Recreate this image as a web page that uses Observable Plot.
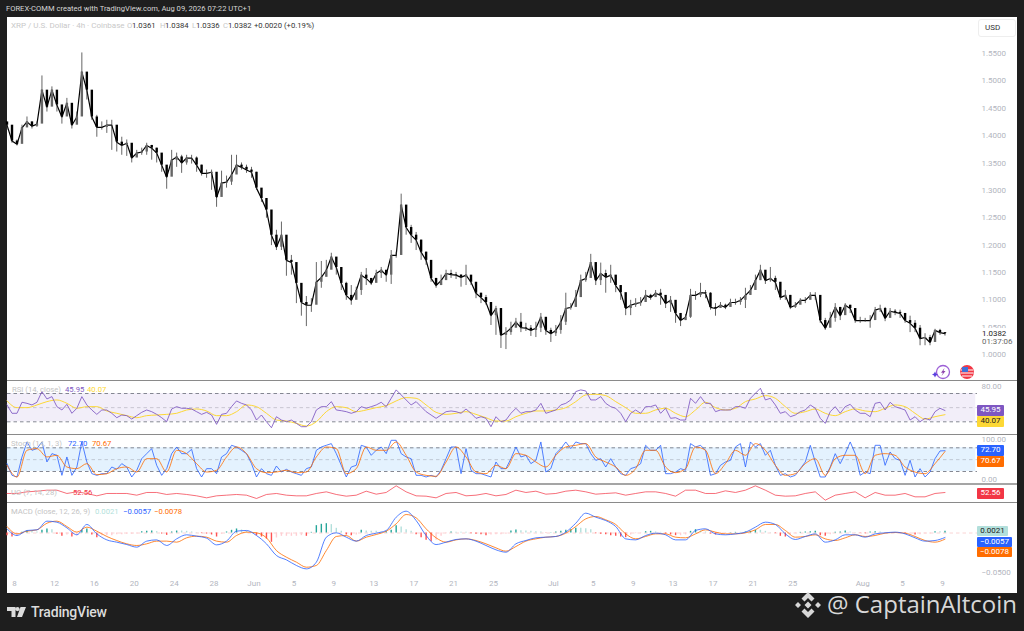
<!DOCTYPE html>
<html>
<head>
<meta charset="utf-8">
<script src="https://cdn.jsdelivr.net/npm/d3@7"></script>
<script src="https://cdn.jsdelivr.net/npm/@observablehq/plot@0.6"></script>
<style>
html,body{margin:0;padding:0;background:#1e1e1e;width:1024px;height:631px;overflow:hidden;font-family:Roboto,"Liberation Sans",sans-serif}
#panel{position:absolute;left:7px;top:17px;width:1010px;height:576px;background:#fff}
.abs{position:absolute;white-space:nowrap;line-height:1}
.sep{position:absolute;left:7px;width:1010px;height:1.5px;background:#8a8a8a}
.box{position:absolute;left:977px;width:27px;text-align:center;font-size:8px;line-height:10.5px;height:10.5px;border-radius:1px}
</style>
</head>
<body>
<div id="panel"></div>
<div id="root"></div>
<script>
// ---------- time ----------
const startTime = Date.UTC(2026, 4, 7, 6);
const stepMs = 12 * 3600 * 1000;
const tickDates = ["2026-05-08","2026-05-12","2026-05-16","2026-05-20","2026-05-24","2026-05-28","2026-06-01","2026-06-05","2026-06-09","2026-06-13","2026-06-17","2026-06-21","2026-06-25","2026-07-01","2026-07-05","2026-07-09","2026-07-13","2026-07-17","2026-07-21","2026-07-25","2026-08-01","2026-08-05","2026-08-09"];
const tickLabels = ["8","12","16","20","24","28","Jun","5","9","13","17","21","25","Jul","5","9","13","17","21","25","Aug","5","9"];
const priceTicks = [1,1.05,1.1,1.15,1.2,1.25,1.3,1.35,1.4,1.45,1.5,1.55];

// ---------- price (12h samples) ----------
const closes = [1.419,1.390,1.384,1.414,1.425,1.417,1.421,1.483,1.452,1.483,
1.456,1.434,1.459,1.419,1.434,1.516,1.483,1.434,1.415,1.415,
1.419,1.419,1.388,1.382,1.386,1.359,1.368,1.370,1.382,1.377,
1.368,1.346,1.324,1.355,1.361,1.350,1.359,1.359,1.346,1.331,
1.331,1.333,1.287,1.313,1.315,1.328,1.346,1.342,1.337,1.333,
1.304,1.285,1.264,1.218,1.196,1.218,1.172,1.168,1.130,1.095,
1.090,1.090,1.132,1.141,1.154,1.178,1.159,1.130,1.108,1.099,
1.117,1.145,1.139,1.130,1.148,1.154,1.145,1.181,1.181,1.273,
1.232,1.218,1.209,1.187,1.172,1.139,1.126,1.135,1.148,1.146,
1.145,1.141,1.145,1.132,1.112,1.104,1.095,1.071,1.084,1.035,
1.040,1.048,1.059,1.049,1.048,1.044,1.048,1.068,1.044,1.038,
1.044,1.059,1.084,1.086,1.104,1.135,1.139,1.168,1.135,1.148,
1.141,1.145,1.126,1.113,1.084,1.090,1.093,1.095,1.108,1.104,
1.112,1.108,1.093,1.099,1.075,1.062,1.068,1.108,1.108,1.113,
1.112,1.086,1.084,1.090,1.086,1.095,1.095,1.099,1.108,1.117,
1.135,1.154,1.135,1.139,1.132,1.104,1.108,1.086,1.090,1.099,
1.099,1.108,1.108,1.062,1.048,1.066,1.086,1.071,1.090,1.084,
1.062,1.062,1.062,1.062,1.081,1.084,1.066,1.079,1.077,1.075,
1.062,1.057,1.048,1.029,1.031,1.022,1.044,1.040,1.0382];
const highs = [1.423,1.408,1.392,1.419,1.434,1.425,1.425,1.509,1.465,1.489,
1.468,1.450,1.468,1.456,1.443,1.551,1.492,1.474,1.437,1.425,
1.428,1.428,1.403,1.397,1.392,1.373,1.373,1.377,1.386,1.382,
1.377,1.364,1.340,1.373,1.368,1.364,1.364,1.364,1.361,1.346,
1.337,1.337,1.315,1.335,1.326,1.364,1.364,1.350,1.346,1.342,
1.333,1.300,1.273,1.254,1.227,1.242,1.209,1.181,1.154,1.121,
1.106,1.102,1.168,1.170,1.172,1.185,1.176,1.150,1.132,1.126,
1.123,1.150,1.157,1.135,1.154,1.159,1.150,1.190,1.187,1.293,
1.254,1.236,1.223,1.209,1.187,1.163,1.139,1.145,1.154,1.154,
1.150,1.146,1.163,1.139,1.126,1.112,1.108,1.090,1.088,1.048,
1.049,1.059,1.066,1.075,1.057,1.053,1.059,1.075,1.059,1.048,
1.053,1.071,1.112,1.093,1.117,1.145,1.150,1.183,1.163,1.167,
1.154,1.163,1.139,1.126,1.102,1.099,1.102,1.104,1.117,1.110,
1.117,1.119,1.104,1.106,1.090,1.071,1.073,1.119,1.115,1.130,
1.117,1.113,1.093,1.095,1.092,1.101,1.101,1.104,1.121,1.126,
1.145,1.163,1.150,1.159,1.143,1.126,1.117,1.108,1.095,1.102,
1.104,1.113,1.113,1.099,1.066,1.077,1.093,1.086,1.093,1.090,
1.081,1.068,1.066,1.071,1.086,1.090,1.086,1.084,1.082,1.081,
1.073,1.070,1.062,1.053,1.038,1.035,1.046,1.046,1.0384];
const lows = [1.410,1.386,1.381,1.392,1.419,1.412,1.415,1.443,1.443,1.459,
1.443,1.421,1.437,1.412,1.425,1.456,1.465,1.428,1.397,1.410,
1.404,1.373,1.370,1.364,1.362,1.350,1.361,1.364,1.364,1.355,
1.350,1.333,1.302,1.333,1.342,1.331,1.346,1.348,1.333,1.326,
1.322,1.300,1.269,1.291,1.304,1.309,1.337,1.337,1.331,1.322,
1.300,1.278,1.249,1.199,1.190,1.190,1.143,1.145,1.093,1.070,
1.051,1.077,1.115,1.121,1.145,1.163,1.145,1.117,1.099,1.090,
1.104,1.108,1.126,1.126,1.135,1.139,1.132,1.128,1.176,1.181,
1.218,1.203,1.190,1.172,1.163,1.132,1.121,1.126,1.139,1.139,
1.137,1.123,1.126,1.126,1.102,1.093,1.090,1.053,1.035,1.011,
1.009,1.035,1.049,1.040,1.042,1.033,1.031,1.040,1.035,1.022,
1.033,1.037,1.053,1.081,1.099,1.117,1.132,1.139,1.126,1.126,
1.112,1.130,1.113,1.099,1.071,1.071,1.086,1.088,1.099,1.099,
1.106,1.090,1.084,1.077,1.057,1.051,1.062,1.066,1.099,1.104,
1.102,1.081,1.070,1.084,1.082,1.090,1.090,1.090,1.084,1.108,
1.130,1.135,1.128,1.132,1.117,1.099,1.099,1.082,1.084,1.093,
1.093,1.102,1.099,1.057,1.044,1.059,1.059,1.062,1.081,1.075,
1.057,1.057,1.059,1.048,1.073,1.077,1.060,1.071,1.071,1.066,
1.057,1.040,1.040,1.016,1.016,1.016,1.035,1.035,1.0336];

// ---------- RSI (12h samples) ----------
const rsi = [53.8,42,42,57.6,56.1,53.8,57.6,72.7,62.3,65.6,51.4,46.7,54.7,42,49.1,65.6,53.8,46.7,40.5,46.7,46.7,42,35.8,39.6,38.7,33.9,38.7,43.4,46.7,44.3,40.5,35.8,30.1,48.1,51.4,49.1,49.1,48.1,44.3,40.5,43.4,39.6,26.4,40.5,42,51.4,59.5,56.1,53.8,46.7,32.5,39.6,30.1,21.6,37.2,32.5,30.1,32.5,27.8,23.1,23.1,30.1,46.7,51.4,51.4,58.5,46.7,
45.7,
44.3,42,44.3,51.4,49.1,51.4,53.8,57.6,51.4,63.2,75.1,68,60.9,53.8,58.5,51.4,44.3,39.6,34.9,39.6,44.3,45.3,44.3,42,48.1,42,34.9,37.2,34.9,23.1,37.2,30.1,32.5,42,49.1,42,44.3,44.3,46.7,56.1,42,44.3,46.7,53.8,56.1,60.9,72.7,75.1,73.6,60.9,60.9,65.6,56.1,51.4,49.1,42,30.1,42,46.7,42,51.4,51.4,53.8,42,49.1,34.9,35.8,
32.5,
32.5,63.2,56.1,65.6,56.1,56.1,44.3,46.7,46.7,46.7,51.4,51.4,49.1,63.2,70.3,77.4,60.9,63.2,53.8,42,44.3,37.2,39.6,44.3,46.7,53.8,49.1,34.9,27.8,44.3,51.4,42,51.4,54.7,46.7,42,42,37.2,56.1,57.6,46.7,57.6,51.4,49.1,46.7,32.5,37.2,30.1,34.9,32.5,44.3,49.1,45.95];
// RSI moving average (every second sample)
const rsiMA = [59.5,50,50,53.8,58.5,60.9,56.1,49.1,51.4,51.4,45.3,42,38.7,35.8,38.7,39.6,40.5,42,46.7,48.1,45.3,38.7,38.7,44.3,53.8,51.4,42,32.5,31.1,27.8,24,30.1,44.3,51.4,
50,44.3,46.7,50,52.8,59.5,64.2,63.2,53.8,43.4,40.5,42,44.3,40.5,35.8,31.1,31.1,37.2,42,45.3,45.3,46.7,50,58.5,68,68.9,67,58.5,50,42,42,46.7,49.1,42,
37.2,46.7,57.6,50,46.7,49.1,58.5,62.3,67,63.2,51.4,42,44.3,48.1,42,38.7,44.3,48.1,45.3,44.3,49.1,53.8,51.4,42,33.9,37.2,40.07];

// ---------- Stochastic ----------
const stochK = [39.9,10.3,6.1,56.8,94.8,73.7,77.9,94.8,44.1,65.2,61,10.3,56.8,10.3,31.4,94.8,44.1,14.5,10.3,14.5,14.5,31.4,25.5,39.9,31.4,6.1,23,52.5,65.2,77.9,35.6,10.3,27.2,65.2,82.1,65.2,65.2,76.2,27.2,6.1,27.2,27.2,14.5,56.8,65.2,86.3,82.1,73.7,65.2,39.9,6.1,27.2,14.5,10.3,33.9,18.7,25.5,18.7,14.5,10.3,27.2,31.4,73.7,82.1,86.3,90.6,65.2,
35.6,6.1,31.4,35.6,86.3,82.1,61,73.7,82.1,65.2,99,99,65.2,56.8,52.5,10.3,10.3,6.1,10.3,6.1,23,52.5,82.1,82.1,14.5,77.9,23,14.5,14.5,10.3,6.1,44.1,27.2,27.2,52.5,82.1,56.8,61,39.9,48.3,94.8,18.7,27.2,65.2,77.9,94.8,77.9,94.8,90.6,90.6,65.2,48.3,52.5,31.4,52.5,31.4,14.5,10.3,27.2,31.4,39.9,86.3,73.7,73.7,86.3,14.5,14.5,18.7,
27.2,23,90.6,82.1,86.3,73.7,10.3,14.5,35.6,44.1,48.3,82.1,90.6,31.4,94.8,82.1,90.6,61,73.7,35.6,10.3,14.5,6.1,10.3,27.2,44.1,86.3,44.1,6.1,6.1,31.4,65.2,39.9,65.2,94.8,65.2,10.3,18.7,14.5,86.3,86.3,35.6,69.4,52.5,48.3,10.3,48.3,6.1,27.2,6.1,18.7,52.5,72,72.7];
const stochD = [35.6,6.1,73.7,77.9,56.8,61,31.4,27.2,39.9,12,14.5,27.2,31.4,18.7,52.5,52.5,18.7,73.7,65.2,39.9,18.7,23,56.8,82.1,65.2,27.2,17,18.7,23,17,18.7,56.8,82.1,77.9,
14.5,27.2,82.1,73.7,73.7,94.8,61,18.7,10.3,7.8,44.1,82.1,56.8,18.7,14.5,35.6,27.2,65.2,61,44.1,31.4,61,82.1,86.3,90.6,56.8,44.1,31.4,10.3,27.2,73.7,73.7,31.4,17,
27.2,82.1,73.7,14.5,39.9,73.7,61,90.6,73.7,35.6,10.3,14.5,39.9,52.5,10.3,52.5,61,61,14.5,61,65.2,61,31.4,18.7,14.5,39.9,70.67];

// ---------- Ultimate Oscillator (every second sample) ----------
const uo = [50.6,50.6,53.9,55.2,57.2,57.2,50.6,53.9,50.6,45.9,50.6,50.6,50.6,47.2,52.6,52.6,48.6,50.6,48.6,45.9,41.9,45.9,47.2,48.6,47.2,40.6,48.6,50.6,47.2,45.9,45.9,50.6,53.9,48.6,
45.2,47.2,55.2,49.2,52.6,65.9,53.9,45.9,45.2,41.9,50.6,52.6,45.9,47.2,50.6,45.9,48.6,57.2,52.6,55.2,49.2,50.6,55.2,57.2,53.9,49.2,50.6,51.9,47.2,50.6,53.9,53.9,50.6,45.2,
57.2,57.2,50.6,50.6,55.9,52.6,57.2,65.9,57.2,47.2,45.2,45.9,50.6,53.9,37.2,47.2,50.6,53.9,41.9,52.6,47.2,47.2,50.6,43.9,43.9,50.6,52.56];

// ---------- MACD (every second sample) ----------
const macdLine = [.0053,-.0032,.0032,.004,.015,.0137,.0065,-.0023,.0108,-.0011,-.0087,-.0116,-.0146,-.0179,-.0103,-.0087,-.0158,-.0074,-.0023,-.004,-.0065,-.015,-.0103,.0023,.0032,-.0032,-.0137,-.0285,-.034,-.0411,-.0454,-.0369,-.0053,.0002,
-.0053,-.0103,-.0032,-.0002,.0032,.02,.0276,.0158,-.0032,-.0146,-.0116,-.0082,-.0074,-.0103,-.0158,-.0213,-.0243,-.0137,-.0095,-.0061,-.0053,-.0044,.0011,.0124,.0251,.02,.0158,.0082,-.0074,-.0087,-.0032,-.0002,-.0023,-.0087,
-.0087,.0032,.0053,-.0011,-.0023,-.0011,.0011,.0074,.0137,.0108,-.0011,-.0082,-.0044,-.0011,-.0116,-.0087,-.0023,-.0023,-.0053,-.0011,.0002,.0011,-.0011,-.0061,-.0103,-.0095,-.0057];
const signalLine = [.0082,-.0011,.0023,.004,.0124,.015,.0082,.0011,.0074,.0023,-.0044,-.0095,-.0137,-.0158,-.0137,-.0103,-.0103,-.0116,-.0061,-.004,-.0053,-.0103,-.0116,-.0032,.0011,.0002,-.0061,-.0222,-.0306,-.0369,-.0433,-.0411,-.0222,-.0044,
-.0032,-.0103,-.0053,-.0019,.0023,.0116,.0234,.0192,.0053,-.0061,-.0116,-.0087,-.0074,-.0095,-.0137,-.0188,-.023,-.0171,-.0103,-.0074,-.0053,-.0044,-.0002,.0082,.0179,.0209,.0167,.0108,-.0011,-.0074,-.0044,-.0011,-.0011,-.0053,
-.0061,-.0011,.004,.0011,-.0011,-.0011,.0002,.004,.0108,.0108,.0032,-.0053,-.0044,-.0023,-.0074,-.0095,-.0061,-.0023,-.0044,-.0032,-.0002,.0006,-.0002,-.0044,-.0095,-.0116,-.0078];
const macdHist = [-.0034,-.0051,-.0034,.0008,.0025,.0021,.0013,.0034,.0051,.0042,-.0017,-.0042,-.0025,-.0051,-.0034,.0034,.0051,-.0025,-.0059,-.0034,-.0034,-.0034,-.0021,-.0021,-.0017,-.0017,-.0013,.0017,.0021,.0025,.0017,-.0013,-.003,.0013,.0025,.0025,.0021,.0013,.0004,-.0008,-.0013,-.0025,-.0051,-.0017,.0013,.0034,.0051,.0038,.0021,.0008,-.0034,-.0051,-.0076,-.0118,-.0063,-.0042,-.0042,-.0042,-.0042,-.0034,-.0042,.0008,.0093,.011,.0118,.0106,.0059,
.0021,
-.0025,-.0034,-.0025,.0034,.0025,.0021,.0021,.0013,.0017,.0034,.0093,.0076,.0042,.0021,-.0021,-.0059,-.0093,-.011,-.0093,-.0042,-.0008,.0013,.0008,.0008,.0008,-.0008,-.0017,-.0021,-.0034,-.0025,-.0021,-.0021,-.0017,.0025,.0038,.003,.0025,.0021,.0017,.0013,-.0004,.0004,.0013,.0021,.0034,.0042,.0059,.0059,.0055,.0042,-.0008,-.0017,-.0021,-.0034,-.0042,-.0051,-.0059,-.0025,-.0008,-.0004,.0017,.0021,.0013,.0008,-.0013,-.0025,-.0034,
-.0034,
-.0025,.0021,.0042,.0025,.0013,-.0013,-.0025,-.0017,-.0008,.0004,.0008,.0008,.0013,.0021,.0034,.0034,.0021,.0004,-.0008,-.0042,-.0051,-.0025,-.0008,.0008,.0013,.0017,.0021,-.0034,-.0042,-.0021,.0008,.0013,.0025,.0013,.0004,-.0004,-.0008,.0013,.0017,.0013,.0004,.0004,.0004,-.0004,-.0013,-.0013,-.0025,-.0021,-.0013,-.0013,.0017,.0017,.0021];

// ---------- last values ----------
const lastPrice = "1.0382", countdown = "01:37:06";

// ---------- tables ----------
const t = i => new Date(startTime + i * stepMs);
const candles = closes.map((c, i) => ({t: t(i), open: i ? closes[i-1] : 1.425, close: c, high: highs[i], low: lows[i]}));
const series = (a, n) => a.map((v, i) => ({t: t(i * n), v}));
const tickDateObjs = tickDates.map(d => new Date(d + "T00:00:00Z"));
const histRows = macdHist.map((v, i) => {
  const prev = i ? macdHist[i-1] : 0;
  const fill = v >= 0 ? (v > prev ? "#26a69a" : "#b2dfdb") : (v < prev ? "#ff5252" : "#ffcdd2");
  return {t: t(i), v, fill};
});

const W = 1010, LEFT = 7, MR = 40;
const xScale = {type: "utc", domain: [tickDateObjs[0], tickDateObjs[tickDateObjs.length-1]], range: [14 - LEFT, 942 - LEFT]};
const root = document.getElementById("root");
const fontStyle = {fontFamily: "Roboto,'Liberation Sans',sans-serif", fontSize: "8px", color: "#b2b5be", background: "transparent", overflow: "visible"};

function panel(top, bottom, y, marks, opts = {}) {
  const plot = Plot.plot({
    width: W, height: bottom - top,
    marginLeft: 0, marginRight: MR, marginTop: 0, marginBottom: opts.marginBottom || 0,
    style: fontStyle,
    x: opts.withX ? xScale : {...xScale, axis: null},
    y: {domain: y.domain, range: [y.range[0] - top, y.range[1] - top], ...(opts.noAxis ? {axis: null} : {})},
    marks
  });
  plot.style.position = "absolute";
  plot.style.left = LEFT + "px";
  plot.style.top = top + "px";
  root.appendChild(plot);
  return plot;
}
const yAxis = (ticks, fmt) => Plot.axisY({anchor: "right", ticks, tickSize: 0, tickPadding: 4, tickFormat: fmt, label: null});
const dash = (v, c, o) => Plot.ruleY([v], {stroke: c, strokeDasharray: "3.5,3", strokeOpacity: o, strokeWidth: 1});
const bandL = new Date("2026-05-07T06:00:00Z"), bandR = new Date("2026-08-12T08:00:00Z");

// price
panel(18, 380, {domain: [1, 1.55], range: [354, 53]}, [
  yAxis(priceTicks, d3.format(".4f")),
  Plot.line(candles, {x: "t", y: "close", stroke: "#000", strokeWidth: 1.2}),
  Plot.ruleX(candles, {x: "t", y1: "low", y2: "high", stroke: "#333", strokeWidth: 1, strokeOpacity: .75}),
  Plot.ruleX(candles, {x: "t", y1: "open", y2: "close", stroke: d => d.close >= d.open ? "#666" : "#000", strokeWidth: 2.4})
]);
// RSI
panel(381, 434, {domain: [30, 70], range: [421.3, 393]}, [
  yAxis([80], d3.format(".2f")),
  Plot.rect([{a: 30, b: 70}], {x1: () => bandL, x2: () => bandR, y1: "a", y2: "b", fill: "#7e57c2", fillOpacity: .1}),
  dash(70, "#787b86", .9), dash(50, "#787b86", .35), dash(30, "#787b86", .9),
  Plot.line(series(rsiMA, 2), {x: "t", y: "v", stroke: "#fdd835", strokeWidth: 1, curve: "monotone-x"}),
  Plot.line(series(rsi, 1), {x: "t", y: "v", stroke: "#7e57c2", strokeWidth: 1, strokeOpacity: .85})
]);
// Stochastic
panel(435, 483, {domain: [20, 80], range: [471, 447.3]}, [
  yAxis([0, 100], d3.format(".2f")),
  Plot.rect([{a: 20, b: 80}], {x1: () => bandL, x2: () => bandR, y1: "a", y2: "b", fill: "#2196f3", fillOpacity: .12}),
  dash(80, "#787b86", .9), dash(50, "#787b86", .35), dash(20, "#787b86", .9),
  Plot.line(series(stochK, 1), {x: "t", y: "v", stroke: "#2962ff", strokeWidth: 1, strokeOpacity: .8}),
  Plot.line(series(stochD, 2), {x: "t", y: "v", stroke: "#ff6d00", strokeWidth: 1, strokeOpacity: .8, curve: "monotone-x"})
]);
// UO
panel(485, 501, {domain: [32.56, 72.56], range: [502, 482]}, [
  Plot.line(series(uo, 2), {x: "t", y: "v", stroke: "#f23645", strokeWidth: .9, strokeOpacity: .8})
], {noAxis: true});
// MACD
panel(503, 592, {domain: [-0.05, 0], range: [572, 532.5]}, [
  yAxis([-0.05], d3.format(".4f")),
  Plot.axisX({anchor: "bottom", ticks: tickDateObjs, tickSize: 0, tickPadding: 2, label: null, tickFormat: d => tickLabels[tickDateObjs.findIndex(x => +x === +d)]}),
  Plot.ruleY([0], {stroke: "#f7b9b9", strokeDasharray: "3.5,3", strokeOpacity: .6}),
  Plot.ruleX(histRows, {x: "t", y1: () => 0, y2: "v", stroke: "fill", strokeWidth: 1.4}),
  Plot.line(series(signalLine, 2), {x: "t", y: "v", stroke: "#ff6d00", strokeWidth: 1, strokeOpacity: .8, curve: "monotone-x"}),
  Plot.line(series(macdLine, 2), {x: "t", y: "v", stroke: "#2962ff", strokeWidth: 1, strokeOpacity: .8, curve: "monotone-x"})
], {withX: true, marginBottom: 14});

// ---------- page chrome ----------
function txt(s, x, y, size, color, extra) {
  const d = document.createElement("div");
  d.className = "abs";
  d.textContent = s;
  d.style.cssText += `left:${x}px;top:${y - size/2 - .5}px;font-size:${size}px;color:${color};${extra||""}`;
  document.body.appendChild(d);
}
function sep(y, c, h) {
  const d = document.createElement("div");
  d.className = "sep"; d.style.top = y + "px";
  if (c) d.style.background = c;
  if (h) d.style.height = h + "px";
  document.body.appendChild(d);
}
function box(s, y, bg, c, w, h) {
  const d = document.createElement("div");
  d.className = "box"; d.textContent = s;
  d.style.top = y + "px"; d.style.background = bg; d.style.color = c;
  if (w) d.style.width = w + "px";
  if (h) { d.style.height = h + "px"; d.style.lineHeight = h + "px"; }
  document.body.appendChild(d);
}
sep(379.5); sep(433.5); sep(483, "#a5a5a5", 2); sep(501.5);

const LG = 7.7;
txt("FOREX-COMM created with TradingView.com, Aug 09, 2026 07:22 UTC+1", 6, 9, 7.6, "#d6d6d6");
txt("XRP / U.S. Dollar · 4h · Coinbase", 11, 26, 8, "#c9c9c9");
[["O",127],["H",160],["L",192],["C",223]].forEach(([k,x]) => txt(k, x, 26, LG, "#c9c9c9"));
[["1.0361",132],["1.0384",165],["1.0336",196],["1.0382",228],["+0.0020 (+0.19%)",254]].forEach(([k,x]) => txt(k, x, 26, LG, "#333"));

txt("RSI (14, close)", 12, 390, LG, "#c4c4c4");
txt("45.95", 65, 390, LG, "#7e57c2"); txt("40.07", 87, 390, LG, "#fdd835");
txt("Stoch (14, 1, 3)", 11, 444, LG, "#c4c4c4");
txt("72.70", 68, 444, LG, "#2962ff"); txt("70.67", 92, 444, LG, "#ff6d00");
txt("UO (7, 14, 28)", 11, 493, LG, "#c4c4c4"); txt("52.56", 73, 493, LG, "#f23645");
txt("MACD (close, 12, 26, 9)", 11, 512, LG, "#c4c4c4");
txt("0.0021", 95, 512, LG, "#b2dfdb"); txt("−0.0057", 123, 512, LG, "#2962ff"); txt("−0.0078", 154, 512, LG, "#ff6d00");

// last price block covers the axis label beneath it
const cover = document.createElement("div");
cover.style.cssText = "position:absolute;left:979px;top:328px;width:36px;height:19px;background:#fff";
document.body.appendChild(cover);
txt(lastPrice, 982, 334, 7.9, "#222");
txt(countdown, 982, 342, 7.9, "#666");

box("45.95", 405, "#7e57c2", "#fff");
box("40.07", 416, "#fdd835", "#222");
box("72.70", 445, "#2962ff", "#fff");
box("70.67", 456, "#ff6d00", "#fff");
box("52.56", 488, "#f23645", "#fff");
box("0.0021", 526, "#b2dfdb", "#222", 31, 10);
box("−0.0057", 537, "#2962ff", "#fff", 35, 10);
box("−0.0078", 547, "#ff6d00", "#fff", 35, 10);

// USD tag
const usd = document.createElement("div");
usd.textContent = "USD";
usd.style.cssText = "position:absolute;left:978px;top:19px;width:30px;padding-left:6px;height:16px;line-height:16px;font-size:8px;color:#333;border:1px solid #eee;border-radius:3px;background:#fff";
document.body.appendChild(usd);

// footer
txt("TradingView", 31, 612, 14, "#dcdcdc", "font-weight:500;letter-spacing:-.2px;");
txt("@ CaptainAltcoin", 827, 604, 24, "#d8d8d8", "font-family:'Open Sans';");

const deco = document.createElementNS("http://www.w3.org/2000/svg", "svg");
deco.setAttribute("width", 1024); deco.setAttribute("height", 631);
deco.style.cssText = "position:absolute;left:0;top:0;pointer-events:none";
deco.innerHTML = `
<g fill="#dcdcdc">
<path d="M7 607h8.500v10h-4v-6H7zM17.500 607a2.100 2.100 0 1 1 0 4.200a2.100 2.100 0 1 1 0-4.200zM20.500 607h5.500l-4 10h-5z"/>
</g>
<g fill="#d8d8d8" transform="translate(808,605)">
<path d="M0-13l6.500 6.500-3 3L0-7l-3.500 3.500-3-3zM0 13l6.500-6.500-3-3L0 7l-3.500-3.500-3 3zM0-3.500L3.500 0 0 3.500-3.500 0zM-13 0l3-3 3 3-3 3zM13 0l-3-3-3 3 3 3z"/>
</g>
<g transform="translate(943,372)">
<circle r="6.500" fill="#fff" stroke="#9c5fd6" stroke-width="1.300"/>
<path d="M1.500-4L-2 .8h2L-1.500 4 2.500-1H.500z" fill="#8e44ad"/>
<path d="M-8-.5l1 2 2 1-2 1-1 2-1-2-2-1 2-1z" fill="#5b3fe0"/>
</g>
<g transform="translate(967,372)">
<circle r="7" fill="#f23645"/>
<path d="M-6 -2h12M-6.500 1h13M-5 4h10" stroke="#fff" stroke-width="1"/>
<rect x="-5" y="-5" width="6" height="5" fill="#3f6fd8"/>
</g>`;
document.body.appendChild(deco);
</script>
</body>
</html>
